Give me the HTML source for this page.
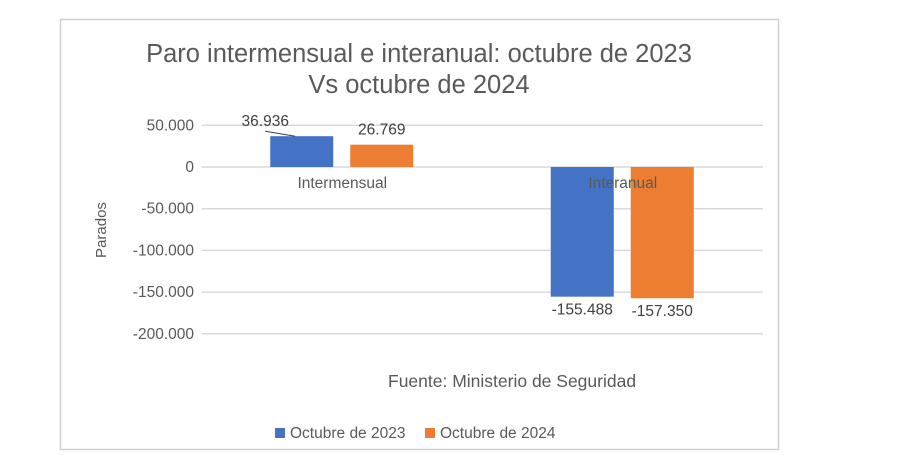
<!DOCTYPE html>
<html><head><meta charset="utf-8"><style>
body{margin:0;background:#fff;font-family:"Liberation Sans",sans-serif;}
svg text{font-family:"Liberation Sans",sans-serif;}
</style></head><body>
<svg width="913" height="461">
<rect x="60.5" y="19.5" width="718" height="430" fill="#fff" stroke="#d0d0d0" stroke-width="1.5"/>
<text x="419" y="62" text-anchor="middle" font-size="25.5" fill="#595959">Paro intermensual e interanual: octubre de 2023</text>
<text x="419" y="93" text-anchor="middle" font-size="25.5" fill="#595959">Vs octubre de 2024</text>
<text transform="translate(106,230) rotate(-90)" text-anchor="middle" font-size="15" fill="#595959">Parados</text>
<text x="388" y="387" font-size="17.5" fill="#595959">Fuente: Ministerio de Seguridad</text>
<g id="grid"></g><g id="bars"></g><g id="labels"></g>
<g>
<rect x="275" y="428" width="10" height="10" fill="#4472c4"/>
<text x="290" y="438" font-size="15.5" fill="#595959">Octubre de 2023</text>
<rect x="425" y="428" width="10" height="10" fill="#ed7d31"/>
<text x="440" y="438" font-size="15.5" fill="#595959">Octubre de 2024</text>
</g>
</svg>
<script>
const categories=["Intermensual","Interanual"];
const s2023=[36936,-155488];
const s2024=[26769,-157350];
const ticks=[50000,0,-50000,-100000,-150000,-200000];
const fmt=v=>(v<0?"-":"")+Math.abs(v).toLocaleString("de-DE");
const NS="http://www.w3.org/2000/svg";
const x0=202,x1=763,yZero=167,pxPer=41.7/50000;
const y=v=>yZero-v*pxPer;
const bw=(x1-x0)/categories.length;
function mk(tag,attrs,parent,txt){const e=document.createElementNS(NS,tag);for(const k in attrs)e.setAttribute(k,attrs[k]);if(txt!==undefined)e.textContent=txt;document.getElementById(parent).appendChild(e);return e;}
ticks.forEach(t=>{
 const l=mk("line",{x1:x0,x2:x1,y1:y(t),y2:y(t),stroke:"#d9d9d9","stroke-width":1.5},"grid");
 
 
 const tx=mk("text",{x:194,y:y(t)+5,"text-anchor":"end","font-size":15.5,fill:"#595959"},"grid",t===0?"0":fmt(t));
 
 
});
const series=[[s2023,"#4472c4"],[s2024,"#ed7d31"]];
categories.forEach((c,i)=>{
 const cx=x0+bw*(i+0.5);
 series.forEach(([arr,col],j)=>{
  const v=arr[i];const bx=cx-72+j*80;
  const r=mk("rect",{x:bx,y:Math.min(y(v),yZero),width:63,height:Math.abs(y(v)-yZero),fill:col},"bars");
  
  
  let ly=v>=0?y(v)-10:y(v)+18;let lx=bx+31.5;
  if(i===0&&j===0){lx=bx-5;ly=y(v)-10;const ln=mk("line",{x1:bx-5,y1:y(v)-5,x2:bx+25,y2:y(v),stroke:"#404040"},"labels");}
  const t=mk("text",{x:lx,y:ly,"text-anchor":"middle","font-size":15.5,fill:"#404040"},"labels",fmt(v));
  
  
 });
 const ct=mk("text",{x:cx,y:188,"text-anchor":"middle","font-size":15.5,fill:"#595959"},"labels",c);
 
 
});
</script>
</body></html>
